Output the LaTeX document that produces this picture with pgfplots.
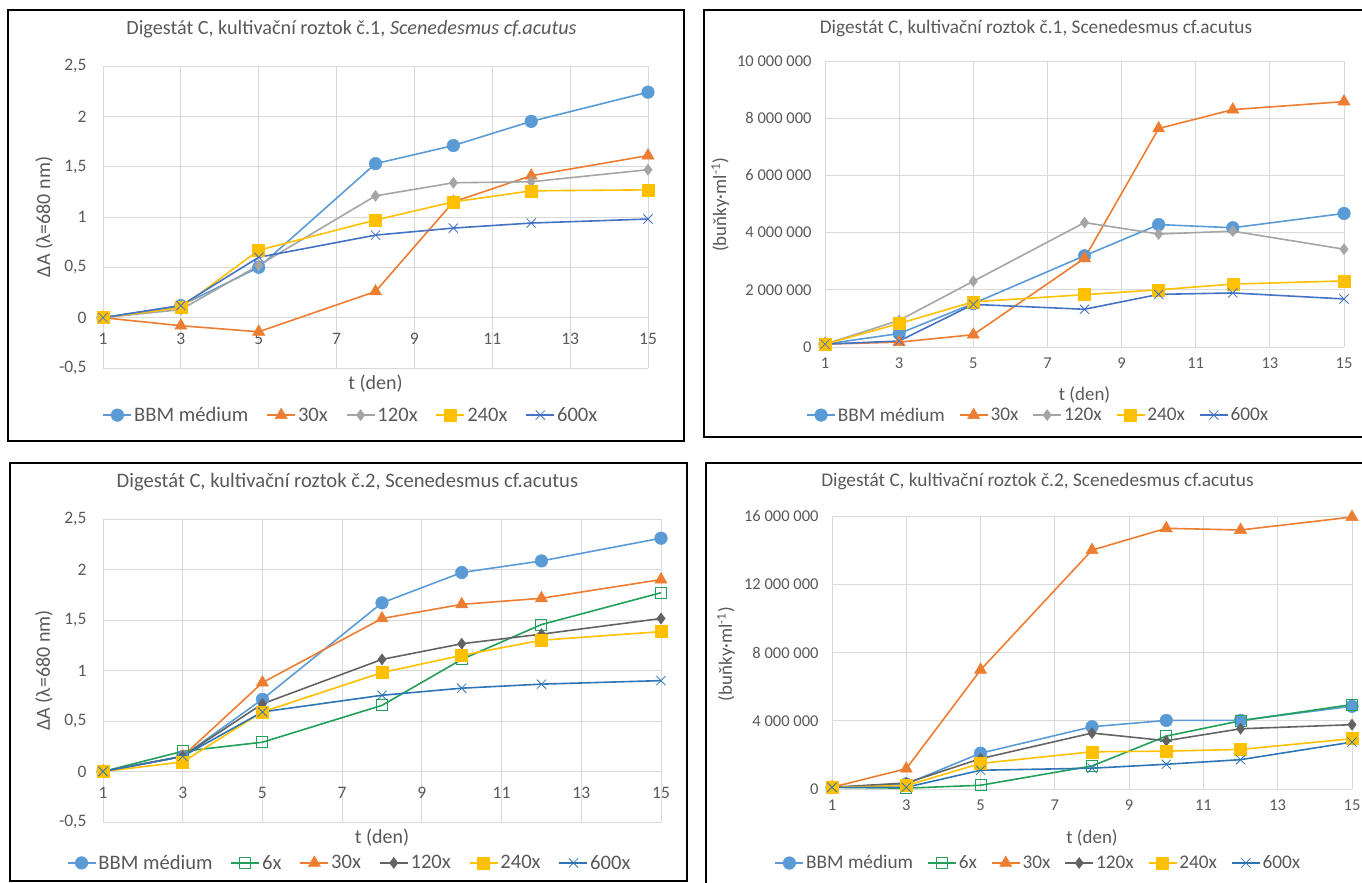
\documentclass[border=0pt]{standalone}
\usepackage{fontspec}
\setmainfont{Carlito}
\usepackage{pgfplots}
\pgfplotsset{compat=1.18}

\definecolor{cBBM}{HTML}{5B9BD5}
\definecolor{cSix}{RGB}{34,160,90}
\definecolor{cThirty}{HTML}{ED7D31}
\definecolor{cOneTwenty}{HTML}{A5A5A5}
\definecolor{cOneTwentyDark}{HTML}{636363}
\definecolor{cTwoForty}{HTML}{FFC000}
\definecolor{cSixHundred}{HTML}{4472C4}
\definecolor{cSixHundredB}{HTML}{2E75B6}
\definecolor{gridc}{HTML}{D9D9D9}
\definecolor{txt}{HTML}{595959}

\pgfplotsset{
  excel/.style={
    scale only axis,
    anchor=south west,
    axis line style={draw=none},
    major tick length=0pt,
    grid=major,
    major grid style={draw=gridc, line width=0.9pt},
    xmin=1, xmax=15, xtick={1,3,5,7,9,11,13,15},
    scaled y ticks=false,
    /pgf/number format/assume math mode=true,
    /pgf/number format/use comma,
    /pgf/number format/fixed,
    /pgf/number format/1000 sep={\ },
    tick label style={text=txt},
    label style={text=txt},
    title style={text=txt, anchor=center},
    xlabel={t (den)},
    legend style={draw=none, fill=none, anchor=center, legend columns=-1,
      text=txt, nodes={inner sep=2pt}},
    legend image code/.code={\draw[mark repeat=2,mark phase=2]
      plot coordinates {(0pt,0pt) (14pt,0pt) (28pt,0pt)};},
  },
  % text sizes of the left-hand (absorbance) charts
  leftfonts/.style={
    tick label style={font=\fontsize{17.5}{21}\selectfont},
    yticklabel style={xshift=-13pt},
    xticklabel style={yshift=38pt},
    label style={font=\fontsize{20}{24}\selectfont},
    title style={font=\fontsize{20.6}{24}\selectfont},
    legend style={font=\fontsize{20.6}{24}\selectfont,
      /tikz/every even column/.append style={column sep=16pt}},
  },
  % text sizes of the right-hand (cell count) charts
  rightfonts/.style={
    tick label style={font=\fontsize{16.5}{20}\selectfont},
    yticklabel style={xshift=-10pt},
    xticklabel style={yshift=-7pt},
    label style={font=\fontsize{18.9}{23}\selectfont},
    title style={font=\fontsize{19.3}{23}\selectfont},
    legend style={font=\fontsize{19.3}{23}\selectfont,
      /tikz/every even column/.append style={column sep=12pt}},
  },
  sBBM/.style={color=cBBM, line width=1.6pt, mark=*, mark size=6.3pt,
    mark options={solid, fill=cBBM, line width=0.5pt}},
  sSix/.style={color=cSix, line width=1.6pt, mark=square, mark size=5.5pt,
    mark options={solid, fill=white, line width=1pt}},
  sThirty/.style={color=cThirty, line width=1.6pt, mark=triangle*, mark size=7pt,
    mark options={solid, fill=cThirty, line width=0.5pt}},
  sOneTwenty/.style={color=cOneTwenty, line width=1.6pt, mark=diamond*, mark size=5.5pt,
    mark options={solid, fill=cOneTwenty, line width=0.5pt}},
  sOneTwentyD/.style={color=cOneTwentyDark, line width=1.6pt, mark=diamond*, mark size=5.5pt,
    mark options={solid, fill=cOneTwentyDark, line width=0.5pt}},
  sTwoForty/.style={color=cTwoForty, line width=1.6pt, mark=square*, mark size=6pt,
    mark options={solid, fill=cTwoForty, line width=0.5pt}},
  sSixHundred/.style={color=cSixHundred, line width=1.6pt, mark=x, mark size=6.5pt,
    mark options={solid, line width=0.8pt}},
  sSixHundredB/.style={color=cSixHundredB, line width=1.6pt, mark=x, mark size=6.5pt,
    mark options={solid, line width=0.8pt}},
}

\begin{document}
\begin{tikzpicture}
\useasboundingbox (0pt,0pt) rectangle (1362pt,-883pt);

% chart frames
\draw[line width=2pt] (8pt,-10pt) rectangle (684pt,-441pt);
\draw[line width=2pt] (704pt,-10pt) rectangle (1375pt,-437pt);
\draw[line width=2pt] (10pt,-463pt) rectangle (687pt,-881pt);
\draw[line width=2pt] (706pt,-463pt) rectangle (1375pt,-895pt);

% --- absorbance, solution 1 ---
\begin{axis}[excel, leftfonts, at={(103pt,-368pt)}, width=545pt, height=302pt,
  ymin=-0.5, ymax=2.5, ytick={-0.5,0,0.5,1,1.5,2,2.5},
  title={Digestát C, kultivační roztok č.1, \textit{Scenedesmus cf.acutus}},
  title style={at={(axis description cs:0.456,1.103)}, font=\fontsize{20.2}{24}\selectfont},
  xlabel style={at={(axis description cs:0.5,-0.05)}, anchor=center},
  ylabel={ΔA (λ=680 nm)},
  ylabel style={at={(axis description cs:-0.108,0.5)}, anchor=center},
  legend style={at={(axis description cs:0.455,-0.156)}},
]
\addplot[sBBM] coordinates {(1,0) (3,0.12) (5,0.50) (8,1.53) (10,1.71) (12,1.95) (15,2.24)};
\addplot[sThirty] coordinates {(1,0) (3,-0.08) (5,-0.14) (8,0.26) (10,1.15) (12,1.41) (15,1.61)};
\addplot[sOneTwenty] coordinates {(1,0) (3,0.08) (5,0.52) (8,1.21) (10,1.34) (12,1.35) (15,1.47)};
\addplot[sTwoForty] coordinates {(1,0) (3,0.10) (5,0.67) (8,0.97) (10,1.15) (12,1.26) (15,1.27)};
\addplot[sSixHundred] coordinates {(1,0) (3,0.12) (5,0.60) (8,0.82) (10,0.89) (12,0.94) (15,0.98)};
\legend{BBM médium, 30x, 120x, 240x, 600x}
\end{axis}

% --- cell counts, solution 1 ---
\begin{axis}[excel, rightfonts, at={(825pt,-347pt)}, width=519pt, height=286pt,
  ymin=0, ymax=10000000, ytick={0,2000000,4000000,6000000,8000000,10000000},
  title={Digestát C, kultivační roztok č.1, Scenedesmus cf.acutus},
  title style={at={(axis description cs:0.4066,1.094)}},
  xlabel style={at={(axis description cs:0.5,-0.168)}, anchor=center},
  ylabel={(buňky·ml\textsuperscript{-1})},
  ylabel style={at={(axis description cs:-0.202,0.497)}, anchor=center},
  legend style={at={(axis description cs:0.411,-0.238)}},
]
\addplot[sBBM] coordinates {(1,100000) (3,470000) (5,1520000) (8,3190000) (10,4280000) (12,4170000) (15,4670000)};
\addplot[sThirty] coordinates {(1,100000) (3,170000) (5,430000) (8,3100000) (10,7640000) (12,8300000) (15,8580000)};
\addplot[sOneTwenty] coordinates {(1,100000) (3,930000) (5,2300000) (8,4350000) (10,3950000) (12,4050000) (15,3420000)};
\addplot[sTwoForty] coordinates {(1,100000) (3,820000) (5,1580000) (8,1830000) (10,2000000) (12,2200000) (15,2310000)};
\addplot[sSixHundred] coordinates {(1,100000) (3,210000) (5,1490000) (8,1320000) (10,1840000) (12,1890000) (15,1680000)};
\legend{BBM médium, 30x, 120x, 240x, 600x}
\end{axis}

% --- absorbance, solution 2 ---
\begin{axis}[excel, leftfonts, at={(103pt,-822pt)}, width=558pt, height=303pt,
  ymin=-0.5, ymax=2.5, ytick={-0.5,0,0.5,1,1.5,2,2.5},
  title={Digestát C, kultivační roztok č.2, Scenedesmus cf.acutus},
  title style={at={(axis description cs:0.438,1.102)}},
  xlabel style={at={(axis description cs:0.5,-0.05)}, anchor=center},
  ylabel={ΔA (λ=680 nm)},
  ylabel style={at={(axis description cs:-0.106,0.5)}, anchor=center},
  legend style={at={(axis description cs:0.442,-0.135)}},
]
\addplot[sBBM] coordinates {(1,0) (3,0.15) (5,0.715) (8,1.67) (10,1.97) (12,2.085) (15,2.31)};
\addplot[sSix] coordinates {(1,0) (3,0.20) (5,0.29) (8,0.655) (10,1.11) (12,1.455) (15,1.77)};
\addplot[sThirty] coordinates {(1,0) (3,0.15) (5,0.88) (8,1.515) (10,1.655) (12,1.715) (15,1.90)};
\addplot[sOneTwentyD] coordinates {(1,0) (3,0.15) (5,0.67) (8,1.11) (10,1.265) (12,1.36) (15,1.515)};
\addplot[sTwoForty] coordinates {(1,0) (3,0.095) (5,0.59) (8,0.98) (10,1.15) (12,1.30) (15,1.385)};
\addplot[sSixHundredB] coordinates {(1,0) (3,0.15) (5,0.59) (8,0.755) (10,0.825) (12,0.865) (15,0.90)};
\legend{BBM médium, 6x, 30x, 120x, 240x, 600x}
\end{axis}

% --- cell counts, solution 2 ---
\begin{axis}[excel, rightfonts, at={(832pt,-789pt)}, width=520pt, height=273pt,
  ymin=0, ymax=16000000, ytick={0,4000000,8000000,12000000,16000000},
  title={Digestát C, kultivační roztok č.2, Scenedesmus cf.acutus},
  title style={at={(axis description cs:0.395,1.103)}},
  xlabel style={at={(axis description cs:0.5,-0.18)}, anchor=center},
  ylabel={(buňky·ml\textsuperscript{-1})},
  ylabel style={at={(axis description cs:-0.204,0.494)}, anchor=center},
  legend style={at={(axis description cs:0.397,-0.271)}},
]
\addplot[sBBM] coordinates {(1,100000) (3,300000) (5,2100000) (8,3650000) (10,4020000) (12,4020000) (15,4850000)};
\addplot[sSix] coordinates {(1,100000) (3,50000) (5,220000) (8,1350000) (10,3100000) (12,4000000) (15,4950000)};
\addplot[sThirty] coordinates {(1,100000) (3,1190000) (5,6980000) (8,14000000) (10,15280000) (12,15180000) (15,15940000)};
\addplot[sOneTwentyD] coordinates {(1,100000) (3,350000) (5,1780000) (8,3280000) (10,2830000) (12,3530000) (15,3770000)};
\addplot[sTwoForty] coordinates {(1,100000) (3,200000) (5,1500000) (8,2180000) (10,2220000) (12,2320000) (15,2950000)};
\addplot[sSixHundredB] coordinates {(1,100000) (3,100000) (5,1100000) (8,1220000) (10,1450000) (12,1720000) (15,2750000)};
\legend{BBM médium, 6x, 30x, 120x, 240x, 600x}
\end{axis}
\end{tikzpicture}
\end{document}
